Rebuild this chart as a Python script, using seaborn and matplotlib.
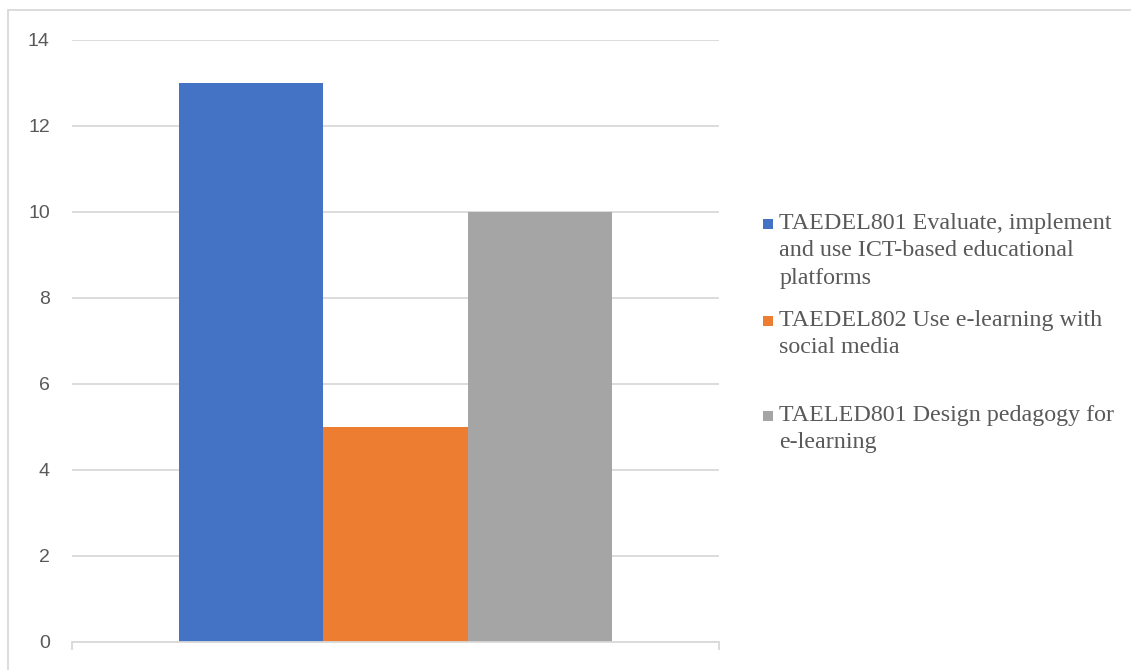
import matplotlib
matplotlib.use("Agg")
import matplotlib.pyplot as plt
import seaborn as sns
import pandas as pd
from matplotlib.patches import Rectangle
from matplotlib.legend_handler import HandlerPatch

# Data
categories = ["", "", ""]
series = [
    "TAEDEL801 Evaluate, implement\nand use ICT-based educational\nplatforms",
    "TAEDEL802 Use e-learning with\nsocial media",
    "TAELED801 Design pedagogy for\ne-learning",
]
values = [13, 5, 10]
colors = ["#4472C4", "#ED7D31", "#A5A5A5"]
yticks = [0, 2, 4, 6, 8, 10, 12, 14]

sns.set_theme(style="white")
plt.rcParams["font.family"] = ["Liberation Sans", "DejaVu Sans"]

df = pd.DataFrame({"cat": categories, "series": series, "value": values})

W, H = 1131, 670
fig = plt.figure(figsize=(W / 100, H / 100), dpi=100)
ax = fig.add_axes([72 / W, 1 - 642 / H, (719 - 72) / W, (642 - 40) / H])

sns.barplot(data=df, x="cat", y="value", hue="series", palette=colors,
            width=0.668, dodge=True, saturation=1, ax=ax, legend=True)

handles, labels = ax.get_legend_handles_labels()
ax.get_legend().remove()

ax.set_xlim(-0.5, 0.5)
ax.set_ylim(0, 14)
ax.set_yticks(yticks)
ax.set_yticklabels([str(v) for v in yticks])
ax.set_xticks([-0.5, 0.5])
ax.set_xticklabels(["", ""])
ax.set_xlabel("")
ax.set_ylabel("")
ax.grid(axis="y", color="#d9d9d9", linewidth=1.3)
ax.set_axisbelow(True)
for s in ["top", "right", "left"]:
    ax.spines[s].set_visible(False)
ax.spines["bottom"].set_color("#d9d9d9")
ax.spines["bottom"].set_linewidth(1.3)
ax.tick_params(axis="y", length=0, pad=16, labelsize=14, labelcolor="#595959")
ax.tick_params(axis="x", length=6, width=1.3, color="#d9d9d9", bottom=True)

for p in ax.patches:
    p.set_edgecolor("none")
    p.set_linewidth(0)


def square_patch(legend, orig_handle, xdescent, ydescent, width, height, fontsize):
    return Rectangle((-xdescent, -ydescent + 1.5), width, width)


# Legend entries (positioned individually)
tops = [213, 310, 405]
for h, l, t in zip(handles, labels, tops):
    leg = fig.legend([h], [l], loc="upper left", bbox_to_anchor=(763 / W, 1 - t / H),
                     frameon=False, borderpad=0, borderaxespad=0,
                     handlelength=0.4, handleheight=0.75, handletextpad=0.28,
                     handler_map={type(h): HandlerPatch(patch_func=square_patch)},
                     prop={"family": "Liberation Serif", "size": 17.3})
    for txt in leg.get_texts():
        txt.set_color("#595959")
        txt.set_linespacing(1.405)
    for col in leg._legend_handle_box.get_children():
        for hp in col.get_children():
            hp.align = "top"

# Outer chart frame
fig.patches.append(Rectangle((8 / W, -0.2), 1.5, 1.2 - 10 / H, transform=fig.transFigure,
                             fill=False, edgecolor="#d9d9d9", linewidth=1.3))

fig.savefig("out.png", dpi=100)
